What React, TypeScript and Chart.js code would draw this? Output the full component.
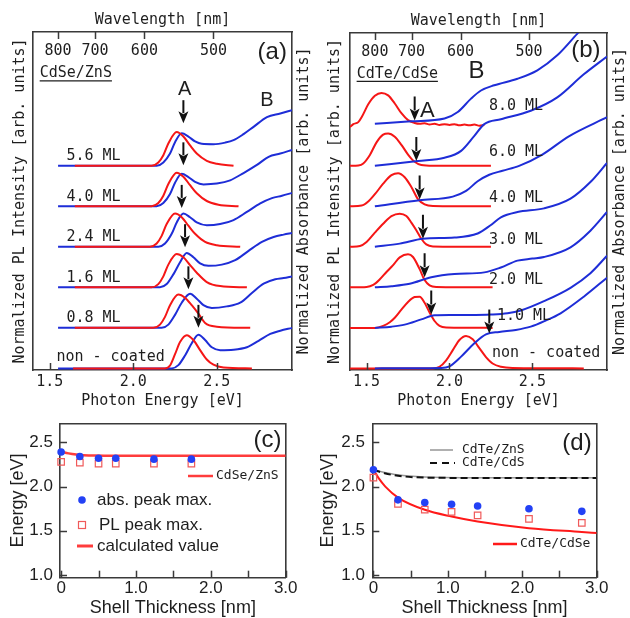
import React, { useEffect, useRef } from 'react';
import { Chart, registerables } from 'chart.js';

Chart.register(...registerables);

const W = 630;
const H = 618;
const MONO = '"DejaVu Sans Mono", "Liberation Mono", monospace';
const SANS = '"Liberation Sans", Arial, sans-serif';
const INK = '#1e1e1e';
const FRAME = '#3a3a3a';
const RED = 'rgb(245,22,22)';
const BLUE = 'rgb(30,45,215)';

// ---------- shared axis ticks ----------
const energyTicks = [1.5, 2.0, 2.5];
const wavelengthTicks = [800, 700, 600, 500];
const thicknessTicks = [0, 0.5, 1.0, 1.5, 2.0, 2.5, 3.0];
const thicknessTickLabels = ['0', '', '1.0', '', '2.0', '', '3.0'];
const energyTicksCD = [1.0, 1.5, 2.0, 2.5];
const energyTickLabelsCD = ['1.0', '1.5', '2.0', '2.5'];

// ---------- (a) CdSe/ZnS : [photon energy (eV), normalized signal], stacked bottom -> top ----------
const labelsA = ['non - coated', '0.8 ML', '1.6 ML', '2.4 ML', '4.0 ML', '5.6 ML'];
const plA_nc = [[1.64, 0], [2.19, 0], [2.22, 0.07], [2.25, 0.35], [2.28, 0.65], [2.32, 0.82], [2.36, 0.7], [2.40, 0.45], [2.44, 0.22], [2.48, 0.09], [2.54, 0.02], [2.71, 0]];
const plA_08 = [[1.65, 0], [2.12, 0], [2.16, 0.08], [2.19, 0.27], [2.22, 0.56], [2.27, 0.82], [2.31, 0.74], [2.35, 0.56], [2.39, 0.35], [2.43, 0.12], [2.50, 0.03], [2.70, 0]];
const plA_16 = [[1.65, 0], [2.11, 0], [2.15, 0.08], [2.18, 0.27], [2.21, 0.56], [2.26, 0.82], [2.30, 0.74], [2.34, 0.55], [2.38, 0.36], [2.44, 0.13], [2.52, 0.03], [2.68, 0]];
const plA_24 = [[1.65, 0], [2.10, 0], [2.14, 0.08], [2.17, 0.27], [2.20, 0.56], [2.25, 0.82], [2.29, 0.73], [2.33, 0.52], [2.37, 0.32], [2.43, 0.12], [2.50, 0.04], [2.64, 0]];
const plA_40 = [[1.65, 0], [2.11, 0], [2.15, 0.08], [2.18, 0.26], [2.21, 0.55], [2.26, 0.83], [2.30, 0.73], [2.34, 0.52], [2.38, 0.32], [2.44, 0.13], [2.51, 0.04], [2.63, 0]];
const plA_56 = [[1.65, 0], [2.11, 0], [2.15, 0.08], [2.18, 0.26], [2.21, 0.55], [2.26, 0.83], [2.30, 0.72], [2.34, 0.5], [2.38, 0.3], [2.44, 0.12], [2.50, 0.05], [2.60, 0]];
const absA_nc = [[1.55, 0], [2.23, 0], [2.27, 0.08], [2.31, 0.32], [2.35, 0.62], [2.39, 0.83], [2.43, 0.7], [2.47, 0.52], [2.52, 0.45], [2.60, 0.46], [2.68, 0.52], [2.75, 0.68], [2.82, 0.85], [2.88, 0.93], [2.95, 1.0]];
const absA_08 = [[1.55, 0], [2.17, 0], [2.21, 0.08], [2.25, 0.32], [2.29, 0.62], [2.34, 0.84], [2.38, 0.72], [2.42, 0.56], [2.47, 0.49], [2.56, 0.53], [2.64, 0.62], [2.71, 0.86], [2.78, 1.09], [2.85, 1.2], [2.90, 1.23], [2.95, 1.27]];
const absA_16 = [[1.55, 0], [2.16, 0], [2.20, 0.08], [2.24, 0.32], [2.28, 0.62], [2.32, 0.85], [2.36, 0.74], [2.40, 0.59], [2.45, 0.53], [2.53, 0.56], [2.61, 0.67], [2.69, 0.9], [2.77, 1.12], [2.84, 1.24], [2.90, 1.3], [2.95, 1.34]];
const absA_24 = [[1.55, 0], [2.15, 0], [2.19, 0.08], [2.23, 0.32], [2.26, 0.6], [2.30, 0.82], [2.34, 0.73], [2.38, 0.6], [2.44, 0.53], [2.52, 0.56], [2.60, 0.66], [2.68, 0.86], [2.76, 1.07], [2.83, 1.2], [2.89, 1.26], [2.95, 1.33]];
const absA_40 = [[1.55, 0], [2.14, 0], [2.18, 0.08], [2.22, 0.3], [2.25, 0.58], [2.29, 0.8], [2.33, 0.72], [2.37, 0.6], [2.42, 0.54], [2.50, 0.56], [2.58, 0.64], [2.66, 0.82], [2.74, 1.02], [2.81, 1.22], [2.88, 1.3], [2.95, 1.39]];
const absA_56 = [[1.55, 0], [2.14, 0], [2.18, 0.08], [2.22, 0.3], [2.25, 0.58], [2.29, 0.8], [2.33, 0.72], [2.37, 0.6], [2.41, 0.54], [2.48, 0.53], [2.55, 0.57], [2.60, 0.63], [2.66, 0.78], [2.72, 0.96], [2.80, 1.2], [2.88, 1.29], [2.95, 1.37]];
const plA = [plA_nc, plA_08, plA_16, plA_24, plA_40, plA_56];
const absA = [absA_nc, absA_08, absA_16, absA_24, absA_40, absA_56];
const arrowA_E = [2.39, 2.33, 2.31, 2.29, 2.30, 2.30];
const arrowA_tip = [1.0, 0.95, 0.99, 0.96, 1.01, 1.05];

// ---------- (b) CdTe/CdSe ----------
const labelsB = ['non - coated', '1.0 ML', '2.0 ML', '3.0 ML', '4.0 ML', '6.0 ML', '8.0 ML'];
const plB_nc = [[1.40, 0], [1.90, 0], [1.94, 0.04], [1.98, 0.2], [2.02, 0.45], [2.06, 0.7], [2.10, 0.8], [2.14, 0.72], [2.18, 0.5], [2.22, 0.28], [2.26, 0.12], [2.31, 0.04], [2.38, 0.01], [2.81, 0]];
const plB_10 = [[1.40, 0], [1.55, 0], [1.60, 0.05], [1.64, 0.14], [1.67, 0.25], [1.71, 0.45], [1.75, 0.64], [1.79, 0.76], [1.82, 0.77], [1.85, 0.62], [1.88, 0.38], [1.91, 0.17], [1.94, 0.05], [1.98, 0.01], [2.26, 0]];
const plB_20 = [[1.40, 0], [1.50, 0.01], [1.54, 0.06], [1.58, 0.2], [1.62, 0.38], [1.66, 0.55], [1.70, 0.74], [1.75, 0.82], [1.78, 0.75], [1.82, 0.45], [1.85, 0.18], [1.88, 0.05], [1.92, 0.01], [2.26, 0]];
const plB_30 = [[1.40, 0], [1.46, 0.02], [1.50, 0.12], [1.55, 0.35], [1.60, 0.57], [1.65, 0.76], [1.70, 0.82], [1.74, 0.76], [1.77, 0.6], [1.80, 0.41], [1.83, 0.2], [1.86, 0.06], [1.90, 0.01], [2.25, 0]];
const plB_40 = [[1.40, 0], [1.47, 0.02], [1.51, 0.12], [1.55, 0.3], [1.60, 0.56], [1.65, 0.77], [1.69, 0.82], [1.73, 0.72], [1.77, 0.48], [1.81, 0.18], [1.85, 0.05], [1.90, 0.01], [2.25, 0]];
const plB_60 = [[1.40, 0], [1.45, 0.01], [1.48, 0.06], [1.52, 0.27], [1.56, 0.58], [1.60, 0.77], [1.63, 0.8], [1.67, 0.72], [1.71, 0.52], [1.75, 0.28], [1.79, 0.1], [1.83, 0.02], [1.90, 0], [2.25, 0]];
const plB_80 = [[1.40, -0.04], [1.42, 0.03], [1.45, 0.08], [1.47, 0.2], [1.51, 0.52], [1.55, 0.73], [1.59, 0.8], [1.63, 0.74], [1.67, 0.54], [1.71, 0.3], [1.75, 0.13], [1.79, 0.06], [1.82, 0.04], [1.85, 0.05], [1.88, 0.02], [1.91, 0.04], [1.94, 0.01], [1.97, 0.03], [2.00, 0.01], [2.03, 0.03], [2.06, 0.0], [2.09, 0.02], [2.12, 0.0], [2.15, 0.02], [2.18, -0.01], [2.21, 0.01]];
const absB_nc = [[1.55, 0], [1.95, 0.01], [2.00, 0.05], [2.07, 0.29], [2.15, 0.62], [2.22, 0.84], [2.30, 0.9], [2.40, 0.95], [2.49, 1.03], [2.58, 1.18], [2.67, 1.36], [2.81, 1.77], [2.95, 2.24]];
const absB_10 = [[1.55, 0], [1.65, 0.03], [1.73, 0.08], [1.83, 0.21], [1.91, 0.31], [2.00, 0.32], [2.12, 0.32], [2.25, 0.33], [2.35, 0.36], [2.43, 0.43], [2.57, 0.66], [2.73, 0.99], [2.85, 1.35], [2.95, 1.78]];
const absB_20 = [[1.55, 0], [1.65, 0.03], [1.76, 0.09], [1.89, 0.25], [2.03, 0.33], [2.21, 0.37], [2.31, 0.49], [2.41, 0.66], [2.50, 0.71], [2.57, 0.75], [2.73, 0.99], [2.85, 1.4], [2.95, 1.86]];
const absB_30 = [[1.55, 0], [1.70, 0.08], [1.84, 0.2], [2.03, 0.23], [2.17, 0.33], [2.25, 0.54], [2.31, 0.73], [2.41, 0.86], [2.57, 0.95], [2.73, 1.19], [2.85, 1.6], [2.95, 2.07]];
const absB_40 = [[1.55, 0], [1.82, 0.15], [2.02, 0.24], [2.10, 0.38], [2.17, 0.62], [2.24, 0.78], [2.32, 0.88], [2.42, 1.0], [2.56, 1.28], [2.72, 1.73], [2.95, 2.2]];
const absB_60 = [[1.55, 0], [1.81, 0.12], [1.97, 0.2], [2.07, 0.37], [2.15, 0.74], [2.21, 1.03], [2.31, 1.15], [2.49, 1.36], [2.65, 1.69], [2.81, 2.26], [2.95, 2.7]];
const absB_80 = [[1.55, 0.04], [1.77, 0.1], [1.97, 0.17], [2.05, 0.33], [2.13, 0.66], [2.19, 0.86], [2.27, 0.99], [2.41, 1.15], [2.53, 1.36], [2.65, 1.73], [2.77, 2.26], [2.87, 2.7]];
const plB = [plB_nc, plB_10, plB_20, plB_30, plB_40, plB_60, plB_80];
const absB = [absB_nc, absB_10, absB_20, absB_30, absB_40, absB_60, absB_80];
const arrowB_E = [2.24, 1.89, 1.85, 1.84, 1.82, 1.80, 1.79];
const arrowB_tip = [0.86, 0.33, 0.25, 0.2, 0.17, 0.12, 0.12];

// ---------- (c) CdSe/ZnS peak energies ----------
const shellC = [0, 0.25, 0.5, 0.73, 1.24, 1.74];
const absPeakC = [2.39, 2.34, 2.32, 2.32, 2.31, 2.31];
const plPeakC = [2.28, 2.27, 2.26, 2.26, 2.26, 2.26];
const calcC_x = [0, 0.1, 0.2, 0.3, 0.45, 0.7, 1.0, 1.5, 2.0, 3.0];
const calcC_y = [2.395, 2.375, 2.362, 2.355, 2.35, 2.348, 2.347, 2.347, 2.347, 2.347];

// ---------- (d) CdTe shells ----------
const shellD = [0, 0.33, 0.69, 1.05, 1.4, 2.09, 2.8];
const absPeakD = [2.19, 1.85, 1.82, 1.8, 1.78, 1.75, 1.72];
const plPeakD = [2.1, 1.805, 1.74, 1.715, 1.675, 1.635, 1.59];
const calcCdSe_x = [0, 0.07, 0.16, 0.34, 0.69, 1.05, 1.4, 2.09, 2.8, 3.0];
const calcCdSe_y = [2.19, 2.095, 2.0, 1.87, 1.738, 1.662, 1.606, 1.53, 1.487, 1.475];
const calcCdS_x = [0, 0.15, 0.4, 0.8, 1.5, 3.0];
const calcCdS_y = [2.19, 2.15, 2.115, 2.1, 2.097, 2.097];
const calcZnS_x = [0, 0.15, 0.4, 0.8, 1.5, 3.0];
const calcZnS_y = [2.19, 2.16, 2.125, 2.105, 2.1, 2.1];

// ---------- helpers ----------
const frameBorder = { color: FRAME, width: 1.6 };
const noGrid = { display: false, drawTicks: false };
const zip = (xs: number[], ys: number[]) => xs.map((x, i) => ({ x, y: ys[i] }));
const stack = (pts: number[][], off: number) => pts.map(([x, y]) => ({ x, y: y + off }));
const padFor = (a: any, L: number, R: number, T: number, B: number) => ({
  left: a.l - L, top: a.t - T, right: W - a.r - R, bottom: H - a.b - B,
});

function curve(data: any[], color: string, width = 2) {
  return {
    data, borderColor: color, backgroundColor: color, borderWidth: width,
    pointRadius: 0, fill: false, cubicInterpolationMode: 'monotone',
    xAxisID: 'x', yAxisID: 'y',
  };
}

// inward-pointing tick marks at each scale tick
function inwardTicks(ids: string[], len = 7) {
  return {
    id: 'inwardTicks',
    afterDraw(chart: any) {
      const { ctx, chartArea: ca } = chart;
      ctx.save();
      ctx.strokeStyle = FRAME;
      ctx.lineWidth = 1.5;
      ids.forEach((id) => {
        const s = chart.scales[id];
        s.ticks.forEach((t: any) => {
          const p = Math.round(s.getPixelForValue(t.value)) + 0.5;
          ctx.beginPath();
          if (s.position === 'bottom') { ctx.moveTo(p, ca.bottom); ctx.lineTo(p, ca.bottom - len); }
          else if (s.position === 'top') { ctx.moveTo(p, ca.top); ctx.lineTo(p, ca.top + len); }
          else { ctx.moveTo(ca.left, p); ctx.lineTo(ca.left + len, p); }
          ctx.stroke();
        });
      });
      ctx.restore();
    },
  };
}

function drawArrow(ctx: CanvasRenderingContext2D, x: number, tip: number, len: number) {
  const head = 12;
  const half = 5;
  ctx.strokeStyle = '#111';
  ctx.fillStyle = '#111';
  ctx.lineWidth = 2;
  ctx.beginPath();
  ctx.moveTo(x, tip - len);
  ctx.lineTo(x, tip - head + 2);
  ctx.stroke();
  ctx.beginPath();
  ctx.moveTo(x, tip);
  ctx.lineTo(x - half, tip - head);
  ctx.lineTo(x, tip - head + 3);
  ctx.lineTo(x + half, tip - head);
  ctx.closePath();
  ctx.fill();
}

function txt(ctx: CanvasRenderingContext2D, s: string, x: number, y: number, font: string, align: CanvasTextAlign = 'left') {
  ctx.font = font;
  ctx.fillStyle = INK;
  ctx.textAlign = align;
  ctx.textBaseline = 'middle';
  ctx.fillText(s, x, y);
}

function underlined(ctx: CanvasRenderingContext2D, s: string, x: number, y: number, font: string) {
  txt(ctx, s, x, y, font);
  const w = ctx.measureText(s).width;
  ctx.strokeStyle = INK;
  ctx.lineWidth = 1.2;
  ctx.beginPath();
  ctx.moveTo(x, y + 7.5);
  ctx.lineTo(x + w, y + 7.5);
  ctx.stroke();
}

function rightTitle(ctx: CanvasRenderingContext2D, s: string, x: number, y: number) {
  ctx.save();
  ctx.translate(x, y);
  ctx.rotate(-Math.PI / 2);
  txt(ctx, s, 0, 0, `15px ${MONO}`, 'center');
  ctx.restore();
}

function spectraScales(yMax: number, L: number, T: number, B: number) {
  const tfont = { family: MONO, size: 15, lineHeight: 1.2 };
  return {
    x: {
      type: 'linear', position: 'bottom', min: 1.4, max: 2.95,
      afterBuildTicks: (s: any) => { s.ticks = energyTicks.map((v) => ({ value: v })); },
      afterFit: (s: any) => { s.height = B; },
      ticks: { autoSkip: false, maxRotation: 0, padding: 3.5, color: INK, font: tfont, callback: (_v: any, i: number) => energyTicks[i].toFixed(1) },
      grid: noGrid, border: frameBorder,
      title: { display: true, text: 'Photon Energy [eV]', color: INK, padding: 0, font: tfont },
    },
    x2: {
      type: 'linear', position: 'top', min: 1.4, max: 2.95,
      afterBuildTicks: (s: any) => { s.ticks = wavelengthTicks.map((nm) => ({ value: 1240 / nm })); },
      afterFit: (s: any) => { s.height = T; },
      ticks: { autoSkip: false, maxRotation: 0, mirror: true, padding: 10.5, color: INK, font: tfont, callback: (_v: any, i: number) => String(wavelengthTicks[i]) },
      grid: noGrid, border: frameBorder,
      title: { display: true, text: 'Wavelength [nm]', color: INK, padding: 0, font: tfont },
    },
    y: {
      type: 'linear', position: 'left', min: -0.04, max: yMax,
      afterFit: (s: any) => { s.width = L; },
      ticks: { display: false }, grid: noGrid, border: frameBorder,
      title: { display: true, text: 'Normalized PL Intensity [arb. units]', color: INK, padding: 0, font: tfont },
    },
    y2: {
      type: 'linear', position: 'right', min: -0.04, max: yMax,
      afterFit: (s: any) => { s.width = 0; },
      ticks: { display: false }, grid: noGrid, border: frameBorder,
    },
  };
}

function shellScales(L: number, tickPad: number) {
  return {
    x: {
      type: 'linear', position: 'bottom', min: -0.015, max: 3.0,
      afterBuildTicks: (s: any) => { s.ticks = thicknessTicks.map((v) => ({ value: v })); },
      afterFit: (s: any) => { s.height = 39.3; },
      ticks: { autoSkip: false, maxRotation: 0, padding: 0, color: INK, font: { family: SANS, size: 17 }, callback: (_v: any, i: number) => thicknessTickLabels[i] },
      grid: noGrid, border: frameBorder,
      title: { display: true, text: 'Shell Thickness [nm]', color: INK, padding: 0, font: { family: SANS, size: 18, lineHeight: 1 } },
    },
    x2: {
      type: 'linear', position: 'top', min: -0.015, max: 3.0,
      afterFit: (s: any) => { s.height = 0; },
      ticks: { display: false }, grid: noGrid, border: frameBorder,
    },
    y: {
      type: 'linear', position: 'left', min: 0.97, max: 2.715,
      afterBuildTicks: (s: any) => { s.ticks = energyTicksCD.map((v) => ({ value: v })); },
      afterFit: (s: any) => { s.width = L; },
      ticks: { autoSkip: false, padding: tickPad, color: INK, font: { family: SANS, size: 17 }, callback: (_v: any, i: number) => energyTickLabelsCD[i] },
      grid: noGrid, border: frameBorder,
      title: { display: true, text: 'Energy [eV]', color: INK, padding: 0, font: { family: SANS, size: 18, lineHeight: 1 } },
    },
    y2: {
      type: 'linear', position: 'right', min: 0.97, max: 2.715,
      afterFit: (s: any) => { s.width = 0; },
      ticks: { display: false }, grid: noGrid, border: frameBorder,
    },
  };
}

const baseOptions = {
  responsive: false,
  maintainAspectRatio: false,
  animation: false,
  events: [],
  plugins: { legend: { display: false }, tooltip: { enabled: false } },
};

// ---------- panel configs ----------
function configA() {
  const area = { l: 33, t: 32, r: 292, b: 370 };
  const datasets = [
    ...plA.map((p, i) => curve(stack(p, i), RED)),
    ...absA.map((p, i) => curve(stack(p, i), BLUE)),
  ];
  const anno = {
    id: 'annoA',
    afterDraw(chart: any) {
      const { ctx, chartArea: ca } = chart;
      const px = (e: number) => chart.scales.x.getPixelForValue(e);
      const py = (v: number) => chart.scales.y.getPixelForValue(v);
      ctx.save();
      arrowA_E.forEach((e, i) => drawArrow(ctx, px(e), py(i + arrowA_tip[i]), 23));
      labelsA.forEach((s, i) => txt(ctx, s, px(i === 0 ? 1.54 : 1.60), py(i + (i === 0 ? 0.29 : 0.23)), `15px ${MONO}`));
      txt(ctx, 'A', px(2.307), py(6.87), `20px ${SANS}`, 'center');
      txt(ctx, 'B', px(2.80), py(6.6), `20px ${SANS}`, 'center');
      txt(ctx, '(a)', px(2.832), py(7.79), `24px ${SANS}`, 'center');
      underlined(ctx, 'CdSe/ZnS', px(1.44), py(7.28), `15px ${MONO}`);
      rightTitle(ctx, 'Normalized Absorbance [arb. units]', ca.right + 12, (ca.top + ca.bottom) / 2);
      ctx.restore();
    },
  };
  return {
    type: 'line',
    data: { datasets },
    options: { ...baseOptions, layout: { padding: padFor(area, 22, 0, 21, 40.5) }, scales: spectraScales(8.3, 22, 21, 40.5) },
    plugins: [anno, inwardTicks(['x', 'x2'])],
  };
}

function configB() {
  const area = { l: 350, t: 33, r: 607, b: 370 };
  const datasets = [
    ...absB.map((p, i) => curve(stack(p, i), BLUE)),
    ...plB.map((p, i) => curve(stack(p, i), RED)),
  ];
  const labelE = [2.256, 2.286, 2.238, 2.238, 2.238, 2.238, 2.238];
  const labelDV = [0.37, 0.28, 0.18, 0.17, 0.2, 0.35, 0.47];
  const anno = {
    id: 'annoB',
    afterDraw(chart: any) {
      const { ctx, chartArea: ca } = chart;
      const px = (e: number) => chart.scales.x.getPixelForValue(e);
      const py = (v: number) => chart.scales.y.getPixelForValue(v);
      ctx.save();
      arrowB_E.forEach((e, i) => drawArrow(ctx, px(e), py(i + arrowB_tip[i]), 24));
      labelsB.forEach((s, i) => txt(ctx, s, px(labelE[i]), py(i + labelDV[i]), `15px ${MONO}`));
      txt(ctx, 'A', px(1.866), py(6.36), `22px ${SANS}`, 'center');
      txt(ctx, 'B', px(2.163), py(7.34), `24px ${SANS}`, 'center');
      txt(ctx, '(b)', px(2.823), py(7.84), `24px ${SANS}`, 'center');
      underlined(ctx, 'CdTe/CdSe', px(1.44), py(7.27), `15px ${MONO}`);
      rightTitle(ctx, 'Normalized Absorbance [arb. units]', ca.right + 13, (ca.top + ca.bottom) / 2);
      ctx.restore();
    },
  };
  return {
    type: 'line',
    data: { datasets },
    options: { ...baseOptions, layout: { padding: padFor(area, 24, 0, 21, 40.5) }, scales: spectraScales(8.28, 24, 21, 40.5) },
    plugins: [anno, inwardTicks(['x', 'x2'])],
  };
}

const BLUE_DOT = 'rgb(35,65,245)';
const RED_SQ = 'rgb(240,90,90)';

function markers(data: any[], kind: 'abs' | 'pl') {
  return kind === 'abs'
    ? { data, showLine: false, pointStyle: 'circle', pointRadius: 3.8, backgroundColor: BLUE_DOT, borderColor: BLUE_DOT, borderWidth: 0, clip: false }
    : { data, showLine: false, pointStyle: 'rect', pointRadius: 4.6, backgroundColor: 'rgba(0,0,0,0)', borderColor: RED_SQ, borderWidth: 1.2, clip: false };
}

function configC() {
  const area = { l: 60, t: 423.3, r: 285.7, b: 577.7 };
  const CALC = 'rgb(255,60,60)';
  const datasets = [
    markers(zip(shellC, absPeakC), 'abs'),
    markers(zip(shellC, plPeakC), 'pl'),
    { ...curve(zip(calcC_x, calcC_y), CALC, 2.5) },
  ];
  const anno = {
    id: 'annoC',
    afterDraw(chart: any) {
      const { ctx } = chart;
      ctx.save();
      txt(ctx, '(c)', 267.5, 440, `24px ${SANS}`, 'center');
      ctx.strokeStyle = CALC; ctx.lineWidth = 2.5;
      ctx.beginPath(); ctx.moveTo(188, 476); ctx.lineTo(213, 476); ctx.stroke();
      txt(ctx, 'CdSe/ZnS', 216, 476, `13px ${MONO}`);
      ctx.fillStyle = BLUE_DOT;
      ctx.beginPath(); ctx.arc(82, 500, 3.8, 0, Math.PI * 2); ctx.fill();
      txt(ctx, 'abs. peak max.', 97, 500, `17px ${SANS}`);
      ctx.strokeStyle = RED_SQ; ctx.lineWidth = 1.2;
      ctx.strokeRect(78.5, 521.5, 7, 7);
      txt(ctx, 'PL peak max.', 99, 525, `17px ${SANS}`);
      ctx.strokeStyle = CALC; ctx.lineWidth = 3;
      ctx.beginPath(); ctx.moveTo(77, 546); ctx.lineTo(93, 546); ctx.stroke();
      txt(ctx, 'calculated value', 97, 546, `17px ${SANS}`);
      ctx.restore();
    },
  };
  return {
    type: 'line',
    data: { datasets },
    options: { ...baseOptions, layout: { padding: padFor(area, 51, 0, 0, 39.3) }, scales: shellScales(51, 7) },
    plugins: [anno, inwardTicks(['x', 'y'])],
  };
}

function configD() {
  const area = { l: 372.3, t: 423.3, r: 596.7, b: 577.7 };
  const CALC = 'rgb(255,25,25)';
  const GRAY = 'rgb(150,150,150)';
  const datasets = [
    markers(zip(shellD, absPeakD), 'abs'),
    markers(zip(shellD, plPeakD), 'pl'),
    { ...curve(zip(calcCdS_x, calcCdS_y), '#111', 2), borderDash: [7, 4] },
    { ...curve(zip(calcZnS_x, calcZnS_y), GRAY, 1.5) },
    { ...curve(zip(calcCdSe_x, calcCdSe_y), CALC, 2) },
  ];
  const anno = {
    id: 'annoD',
    afterDraw(chart: any) {
      const { ctx } = chart;
      ctx.save();
      txt(ctx, '(d)', 577, 443, `24px ${SANS}`, 'center');
      ctx.strokeStyle = GRAY; ctx.lineWidth = 1.5;
      ctx.beginPath(); ctx.moveTo(430, 450); ctx.lineTo(453, 450); ctx.stroke();
      txt(ctx, 'CdTe/ZnS', 462, 450, `13px ${MONO}`);
      ctx.strokeStyle = '#111'; ctx.lineWidth = 2; ctx.setLineDash([7, 5]);
      ctx.beginPath(); ctx.moveTo(430, 463); ctx.lineTo(455, 463); ctx.stroke();
      ctx.setLineDash([]);
      txt(ctx, 'CdTe/CdS', 462, 463, `13px ${MONO}`);
      ctx.strokeStyle = CALC; ctx.lineWidth = 2.5;
      ctx.beginPath(); ctx.moveTo(493, 544); ctx.lineTo(517, 544); ctx.stroke();
      txt(ctx, 'CdTe/CdSe', 520, 544, `13px ${MONO}`);
      ctx.restore();
    },
  };
  return {
    type: 'line',
    data: { datasets },
    options: { ...baseOptions, layout: { padding: padFor(area, 52.8, 0, 0, 39.3) }, scales: shellScales(52.8, 7.3) },
    plugins: [anno, inwardTicks(['x', 'y'])],
  };
}

export default function App() {
  const r0 = useRef<HTMLCanvasElement>(null);
  const r1 = useRef<HTMLCanvasElement>(null);
  const r2 = useRef<HTMLCanvasElement>(null);
  const r3 = useRef<HTMLCanvasElement>(null);
  useEffect(() => {
    const charts = [
      new Chart(r0.current as any, configA() as any),
      new Chart(r1.current as any, configB() as any),
      new Chart(r2.current as any, configC() as any),
      new Chart(r3.current as any, configD() as any),
    ];
    return () => charts.forEach((c) => c.destroy());
  }, []);
  const st: React.CSSProperties = { position: 'absolute', left: 0, top: 0, width: W, height: H };
  return (
    <div style={{ position: 'fixed', left: 0, top: 0, width: W, height: H, background: '#fff' }}>
      <canvas ref={r0} width={W} height={H} style={st} />
      <canvas ref={r1} width={W} height={H} style={st} />
      <canvas ref={r2} width={W} height={H} style={st} />
      <canvas ref={r3} width={W} height={H} style={st} />
    </div>
  );
}
